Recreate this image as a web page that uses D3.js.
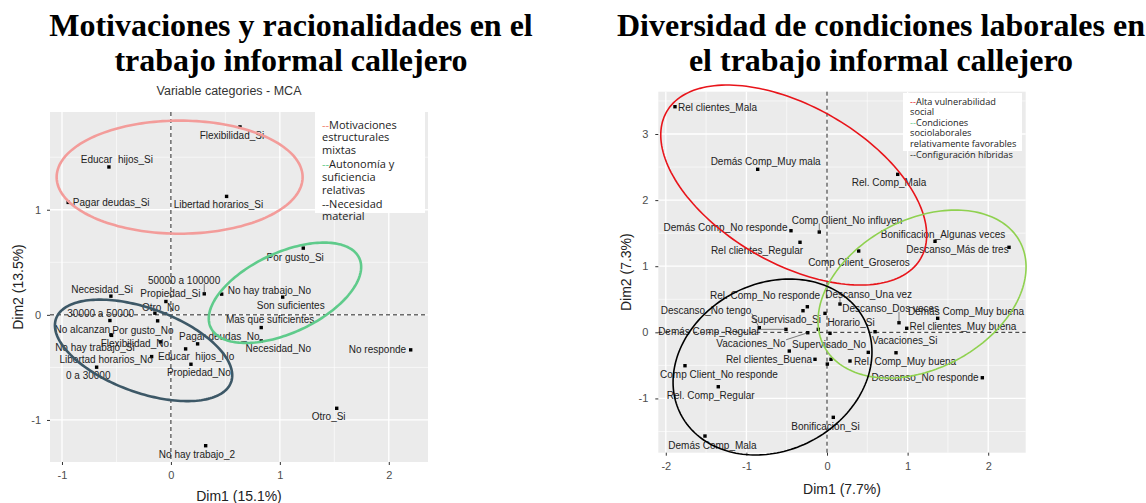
<!DOCTYPE html>
<html><head><meta charset="utf-8">
<script src="https://cdn.jsdelivr.net/npm/d3@7"></script>
<style>
body{margin:0;background:#fff;}
svg text{font-family:"Liberation Sans",Arial,sans-serif;}
</style></head><body>
<svg id="chart" width="1146" height="503"></svg>
<script>
// ---------- LEFT CHART DATA ----------
const leftTitle = ["Motivaciones y racionalidades en el", "trabajo informal callejero"];
const leftSubtitle = "Variable categories - MCA";
const leftXTitle = "Dim1 (15.1%)";
const leftYTitle = "Dim2 (13.5%)";
const leftXTicks = [-1, 0, 1, 2];
const leftYTicks = [-1, 0, 1];
const leftXMinor = [-0.5, 0.5, 1.5];
const leftYMinor = [-0.5, 0.5, 1.5];
const leftNames = ["Flexibilidad_Si", "Educar  hijos_Si", "Pagar deudas_Si", "Libertad horarios_Si", "Por gusto_Si", "No hay trabajo_No", "Son suficientes", "Mas que suficientes", "Necesidad_No", "Pagar deudas_No", "Educar  hijos_No", "Propiedad_No", "Propiedad_Si", "50000 a 100000", "Otro_No", "Necesidad_Si", "30000 a 50000", "No alcanzan", "Por gusto_No", "Flexibilidad_No", "No hay trabajo_Si", "Libertad horarios_No", "0 a 30000", "No hay trabajo_2", "No responde", "Otro_Si"];
const leftDim1 = [0.634, -0.569, -0.943, 0.511, 1.215, 0.466, 1.026, 0.829, 0.829, 0.245, 0.135, 0.184, -0.046, 0.306, -0.147, -0.551, -0.560, -0.551, -0.122, -0.095, -0.545, -0.177, -0.682, 0.319, 2.201, 1.522];
const leftDim2 = [1.788, 1.407, 1.070, 1.127, 0.635, 0.197, 0.169, -0.121, -0.248, -0.276, -0.324, -0.470, 0.127, 0.200, 0.016, 0.178, -0.054, -0.190, -0.057, -0.257, -0.195, -0.397, -0.498, -1.245, -0.333, -0.889];
const leftLabelDim1 = [0.560, -0.496, -0.548, 0.436, 1.141, 0.904, 1.100, 0.911, 0.985, 0.444, 0.232, 0.257, -0.005, 0.121, -0.092, -0.632, -0.645, -0.813, -0.257, -0.331, -0.698, -0.594, -0.759, 0.239, 1.896, 1.448];
const leftLabelDim2 = [1.705, 1.476, 1.070, 1.048, 0.550, 0.231, 0.086, -0.048, -0.324, -0.207, -0.397, -0.550, 0.207, 0.327, 0.070, 0.245, 0.016, -0.136, -0.150, -0.270, -0.308, -0.429, -0.581, -1.324, -0.333, -0.969];
const leftSegments = ["50000 a 100000"];
const leftEllipseCenter = [[0.080, 1.310], [1.047, 0.210], [-0.251, -0.338]];
const leftEllipseAxisA = [[1.129, 0], [0.682, 0.330], [0.803, -0.303]];
const leftEllipseAxisB = [[0, 0.538], [0.155, -0.345], [-0.132, -0.376]];
const leftLegend = ["--Motivaciones", "estructurales", "mixtas", "--Autonomía y", "suficiencia", "relativas", "--Necesidad", "material"];

// ---------- RIGHT CHART DATA ----------
const rightTitle = ["Diversidad de condiciones laborales en", "el trabajo informal callejero"];
const rightXTitle = "Dim1 (7.7%)";
const rightYTitle = "Dim2 (7.3%)";
const rightXTicks = [-2, -1, 0, 1, 2];
const rightYTicks = [-1, 0, 1, 2, 3];
const rightXMinor = [-1.5, -0.5, 0.5, 1.5];
const rightYMinor = [-1.5, -0.5, 0.5, 1.5, 2.5, 3.5];
const rightNames = ["Rel clientes_Mala", "Demás Comp_Muy mala", "Rel. Comp_Mala", "Comp Client_No influyen", "Demás Comp_No responde", "Rel clientes_Regular", "Comp Client_Groseros", "Bonificacion_Algunas veces", "Descanso_Más de tres", "Rel. Comp_No responde", "Descanso_Una vez", "Descanso_Dos veces", "Descanso_No tengo", "Supervisado_Si", "Horario_Si", "Demás Comp_Regular", "Vacaciones_No", "Supervisado_No", "Rel clientes_Buena", "Rel. Comp_Muy buena", "Vacaciones_Si", "Demás Comp_Muy buena", "Rel clientes_Muy buena", "Descanso_No responde", "Comp Client_No responde", "Rel. Comp_Regular", "Bonificación_Si", "Demás Comp_Mala"];
const rightDim1 = [-1.886, -0.860, 0.877, -0.096, -0.447, -0.335, 0.393, 1.340, 2.258, -0.244, 0.161, 0.893, -0.840, -0.025, 0.596, -0.509, -0.239, -0.108, -0.149, 0.285, 0.856, 1.373, 0.989, 1.927, -1.762, -1.349, 0.078, -1.514];
const rightDim2 = [3.413, 2.466, 2.390, 1.517, 1.537, 1.362, 1.230, 1.377, 1.286, 0.387, 0.428, 0.145, 0.070, 0.287, 0.009, 0.045, -0.006, 0.045, -0.408, -0.434, -0.309, 0.212, 0.061, -0.687, -0.505, -0.823, -1.286, -1.569];
const rightLabelDim1 = [-1.358, -0.761, 0.769, 0.248, -1.259, -0.868, 0.397, 1.439, 1.619, -0.769, 0.517, 0.790, -1.501, -0.509, 0.298, -1.464, -0.943, 0.025, -0.720, 0.968, 0.964, 1.725, 1.687, 1.216, -1.340, -1.443, -0.019, -1.421];
const rightLabelDim2 = [3.404, 2.581, 2.263, 1.699, 1.582, 1.234, 1.053, 1.483, 1.260, 0.564, 0.579, 0.363, 0.337, 0.201, 0.151, 0.009, -0.166, -0.177, -0.408, -0.434, -0.127, 0.312, 0.085, -0.687, -0.635, -0.949, -1.418, -1.705];
const rightExtraDim1 = [-0.298, 0.037, -0.468, 0.512, 0.004, 0.050];
const rightExtraDim2 = [0.327, -0.015, -0.283, -0.303, -0.480, -0.408];
const rightSegments = ["Comp Client_No influyen", "Descanso_Una vez", "Descanso_Dos veces", "Descanso_No tengo", "Demás Comp_Regular", "Vacaciones_No"];
const rightEllipseCenter = [[-0.413, 2.228], [1.179, 0.579], [-0.676, -0.525]];
const rightEllipseAxisA = [[1.576, -1.110], [1.215, 0.791], [1.140, 0.712]];
const rightEllipseAxisB = [[-0.487, -1.028], [0.435, -0.994], [0.472, -1.124]];
const rightLegend = ["--Alta vulnerabilidad", "social", "--Condiciones", "sociolaborales", "relativamente favorables", "--Configuración híbridas"];

// ---------- DRAWING ----------
const svg = d3.select("#chart");

function drawPanel(o) {
  const x = d3.scaleLinear().domain(o.xDomain).range([o.left, o.right]);
  const y = d3.scaleLinear().domain(o.yDomain).range([o.bottom, o.top]);
  const g = svg.append("g");

  g.append("rect").attr("x", o.left).attr("y", o.top)
    .attr("width", o.right - o.left).attr("height", o.bottom - o.top).attr("fill", "#EBEBEB");

  g.selectAll(null).data(o.xMinor).join("line")
    .attr("x1", d => x(d)).attr("x2", d => x(d)).attr("y1", o.top).attr("y2", o.bottom)
    .attr("stroke", "#fff").attr("stroke-width", 0.6);
  g.selectAll(null).data(o.yMinor).join("line")
    .attr("y1", d => y(d)).attr("y2", d => y(d)).attr("x1", o.left).attr("x2", o.right)
    .attr("stroke", "#fff").attr("stroke-width", 0.6);
  g.selectAll(null).data(o.xTicks).join("line")
    .attr("x1", d => x(d)).attr("x2", d => x(d)).attr("y1", o.top).attr("y2", o.bottom)
    .attr("stroke", "#fff").attr("stroke-width", 1.3);
  g.selectAll(null).data(o.yTicks).join("line")
    .attr("y1", d => y(d)).attr("y2", d => y(d)).attr("x1", o.left).attr("x2", o.right)
    .attr("stroke", "#fff").attr("stroke-width", 1.3);

  // axes
  const xa = g.append("g").attr("transform", `translate(0,${o.bottom})`)
    .call(d3.axisBottom(x).tickValues(o.xTicks).tickSize(3).tickPadding(o.xPad).tickFormat(d => String(d)));
  const ya = g.append("g").attr("transform", `translate(${o.left},0)`)
    .call(d3.axisLeft(y).tickValues(o.yTicks).tickSize(3).tickPadding(o.yPad).tickFormat(d => String(d)));
  [xa, ya].forEach(a => {
    a.select(".domain").remove();
    a.selectAll(".tick line").attr("stroke", "#333").attr("stroke-width", 1);
    a.selectAll(".tick text").attr("fill", "#4D4D4D").style("font-size", o.tickFont + "px")
      .style("font-family", '"Liberation Sans",Arial,sans-serif');
  });

  // axis titles
  g.append("text").attr("x", (o.left + o.right) / 2).attr("y", o.xTitleY)
    .attr("text-anchor", "middle").attr("dominant-baseline", "central")
    .style("font-size", o.titleFont + "px").attr("fill", "#222").text(o.xTitle);
  g.append("text").attr("transform", `translate(${o.yTitleX},${(o.top + o.bottom) / 2}) rotate(-90)`)
    .attr("text-anchor", "middle").attr("dominant-baseline", "central")
    .style("font-size", o.titleFont + "px").attr("fill", "#222").text(o.yTitle);

  // reference dashed lines
  g.append("line").attr("x1", x(0)).attr("x2", x(0)).attr("y1", o.top).attr("y2", o.bottom)
    .attr("stroke", "#222").attr("stroke-width", 1).attr("stroke-dasharray", "4,3");
  g.append("line").attr("y1", y(0)).attr("y2", y(0)).attr("x1", o.left).attr("x2", o.right)
    .attr("stroke", "#222").attr("stroke-width", 1).attr("stroke-dasharray", "4,3");

  // points
  const pts = o.names.map((n, i) => ({ name: n, d1: o.d1[i], d2: o.d2[i], l1: o.l1[i], l2: o.l2[i] }));
  const extra = (o.e1 || []).map((v, i) => ({ d1: v, d2: o.e2[i] }));
  const ps = 3.4;
  g.selectAll(null).data(pts.concat(extra)).join("rect")
    .attr("x", d => x(d.d1) - ps / 2).attr("y", d => y(d.d2) - ps / 2)
    .attr("width", ps).attr("height", ps).attr("fill", "#000");

  // labels
  const labels = g.selectAll(null).data(pts).join("text")
    .attr("x", d => x(d.l1)).attr("y", d => y(d.l2))
    .attr("text-anchor", "middle").attr("dominant-baseline", "central")
    .style("font-size", "10px").style("white-space", "pre").attr("fill", "#222")
    .text(d => d.name);

  // repel segments
  labels.each(function (d) {
    if (!o.segments.includes(d.name)) return;
    const b = this.getBBox();
    const px = x(d.d1), py = y(d.d2);
    const nx = Math.max(b.x, Math.min(px, b.x + b.width));
    const ny = Math.max(b.y + 2, Math.min(py, b.y + b.height - 2));
    g.append("line").attr("x1", nx).attr("y1", ny).attr("x2", px).attr("y2", py)
      .attr("stroke", "#333").attr("stroke-width", 0.6);
  });

  // ellipses
  const line = d3.line().x(p => x(p[0])).y(p => y(p[1])).curve(d3.curveLinearClosed);
  o.ec.forEach((c, i) => {
    const A = o.ea[i], B = o.eb[i];
    const ring = d3.range(0, 2 * Math.PI, Math.PI / 90).map(t =>
      [c[0] + A[0] * Math.cos(t) + B[0] * Math.sin(t), c[1] + A[1] * Math.cos(t) + B[1] * Math.sin(t)]);
    g.append("path").attr("d", line(ring)).attr("fill", "none")
      .attr("stroke", o.eColors[i]).attr("stroke-width", o.eWidth);
  });

  // legend box
  const L = o.legend;
  g.append("rect").attr("x", L.x).attr("y", L.y).attr("width", L.w).attr("height", L.h).attr("fill", "#fff");
  o.legendLines.forEach((t, i) => {
    const tx = g.append("text").attr("x", L.tx).attr("y", L.ty + i * L.lh)
      .attr("dominant-baseline", "central").style("font-size", L.fs + "px")
      .style("font-family", '"Open Sans","Noto Sans",sans-serif').attr("fill", "#222");
    if (t.startsWith("--")) {
      const k = o.legendLines.slice(0, i + 1).filter(s => s.startsWith("--")).length - 1;
      tx.append("tspan").attr("fill", L.dashColors[k]).text("--");
      tx.append("tspan").text(t.slice(2));
    } else tx.text(t);
  });
}

// titles
function drawTitle(lines, cx) {
  lines.forEach((t, i) => {
    svg.append("text").attr("x", cx).attr("y", 36 + i * 35).attr("text-anchor", "middle")
      .style("font-family", '"Liberation Serif","Times New Roman",serif')
      .style("font-weight", "bold").style("font-size", "32px").attr("fill", "#000").text(t);
  });
}
drawTitle(leftTitle, 291);
drawTitle(rightTitle, 881);
svg.append("text").attr("x", 229).attr("y", 91).attr("text-anchor", "middle")
  .attr("dominant-baseline", "central").style("font-size", "12.5px").attr("fill", "#333").text(leftSubtitle);

drawPanel({
  xDomain: [-1.11, 2.36], yDomain: [-1.40, 1.93],
  left: 50, right: 428, top: 112, bottom: 462,
  xTicks: leftXTicks, yTicks: leftYTicks, xMinor: leftXMinor, yMinor: leftYMinor,
  xPad: 6, yPad: 6, tickFont: 11, titleFont: 14,
  xTitle: leftXTitle, yTitle: leftYTitle, xTitleY: 496, yTitleX: 18,
  names: leftNames, d1: leftDim1, d2: leftDim2, l1: leftLabelDim1, l2: leftLabelDim2,
  segments: leftSegments,
  ec: leftEllipseCenter, ea: leftEllipseAxisA, eb: leftEllipseAxisB,
  eColors: ["#F39C9A", "#5FCB8B", "#3D5867"], eWidth: 2.6,
  legend: { x: 315, y: 112, w: 110, h: 101, tx: 322, ty: 123.5, lh: 13.2, fs: 11,
    dashColors: ["#F08070", "#5FCB8B", "#222"] },
  legendLines: leftLegend
});

drawPanel({
  xDomain: [-2.093, 2.465], yDomain: [-1.821, 3.640],
  left: 658.3, right: 1025.7, top: 91.7, bottom: 452.7,
  xTicks: rightXTicks, yTicks: rightYTicks, xMinor: rightXMinor, yMinor: rightYMinor,
  xPad: 7, yPad: 7, tickFont: 11, titleFont: 14,
  xTitle: rightXTitle, yTitle: rightYTitle, xTitleY: 489, yTitleX: 626,
  names: rightNames, d1: rightDim1, d2: rightDim2, l1: rightLabelDim1, l2: rightLabelDim2,
  e1: rightExtraDim1, e2: rightExtraDim2,
  segments: rightSegments,
  ec: rightEllipseCenter, ea: rightEllipseAxisA, eb: rightEllipseAxisB,
  eColors: ["#E8141A", "#8FD14F", "#000"], eWidth: 1.6,
  legend: { x: 903, y: 93, w: 119, h: 58, tx: 910, ty: 100.5, lh: 10.7, fs: 9.2,
    dashColors: ["#E8141A", "#5FCB8B", "#222"] },
  legendLines: rightLegend
});
</script>
</body></html>
